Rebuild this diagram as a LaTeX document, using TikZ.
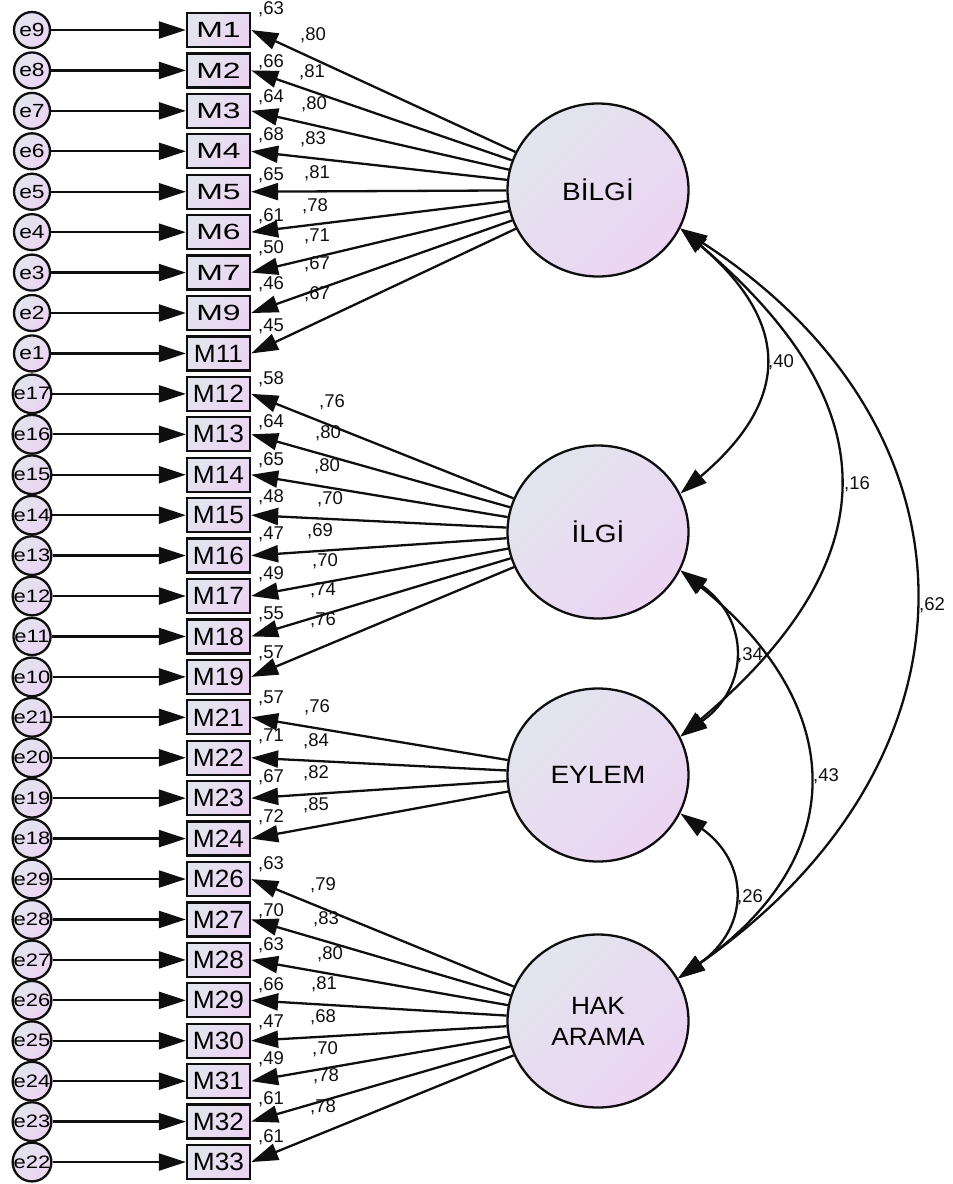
\documentclass[tikz,border=0pt]{standalone}
\usepackage{fontspec}
\setmainfont{Liberation Sans}
\usetikzlibrary{arrows.meta,shapes.geometric}
\definecolor{fillA}{RGB}{226,229,238}
\definecolor{fillB}{RGB}{236,212,243}
\definecolor{ink}{RGB}{15,15,15}
\newcommand{\mlabel}[1]{\ifnum#1<10 \scalebox{1.45}[1]{\fontsize{22}{22}\selectfont M#1}\else\scalebox{1.05}[1]{\fontsize{25}{25}\selectfont M#1}\fi}
\newcommand{\elabel}[1]{\ifnum#1<10 \scalebox{1.2}[1]{\fontsize{19}{19}\selectfont e#1}\else\scalebox{1.22}[1]{\fontsize{18}{18}\selectfont e#1}\fi}
\tikzset{
  grad/.style={left color=fillA, right color=fillB, shading angle=45},
  errc/.style={circle, draw=ink, line width=2.3pt, grad, minimum size=36pt, inner sep=0pt},
  mbox/.style={rectangle, draw=ink, line width=2.3pt, grad, minimum width=63pt, minimum height=34pt, inner sep=0pt},
  latent/.style={ellipse, draw=ink, line width=2.3pt, grad, minimum width=181pt, minimum height=173pt, inner sep=0pt, align=center, font=\fontsize{25}{31}\selectfont},
  arr/.style={line width=2.3pt, draw=ink, -{Triangle[length=27pt,width=17pt]}},
  darr/.style={line width=2.3pt, draw=ink, {Triangle[length=27pt,width=17pt]}-{Triangle[length=27pt,width=17pt]}},
  lab/.style={inner sep=0pt, font=\fontsize{18.5}{18.5}\selectfont, text=ink}
}
\begin{document}
\begin{tikzpicture}[x=1pt, y=-1pt]
\useasboundingbox (0,0) rectangle (953,1184);
% latent variables
\node[latent] (B) at (598,190) {\scalebox{1.12}[1]{BİLGİ}};
\node[latent] (I) at (598,532) {\scalebox{1.12}[1]{İLGİ}};
\node[latent] (E) at (598,775) {\scalebox{1.12}[1]{EYLEM}};
\node[latent] (H) at (598,1021) {\scalebox{1.05}[1]{HAK}\\\scalebox{1.05}[1]{ARAMA}};
% indicators
\foreach \e/\m/\lat/\ld/\lx/\ly/\r/\ry [count=\i] in {
 9/1/B/80/313/35/63/9,
 8/2/B/81/312/72/66/62,
 7/3/B/80/314/104/64/97,
 6/4/B/83/313/139/68/135,
 5/5/B/81/317/173/65/175,
 4/6/B/78/315/206/61/216,
 3/7/B/71/317/236/50/248,
 2/9/B/67/317/264/46/284,
 1/11/B/67/317/294/45/326,
 17/12/I/76/332/402/58/379,
 16/13/I/80/328/433/64/422,
 15/14/I/80/327/466/65/460,
 14/15/I/70/330/499/48/497,
 13/16/I/69/320/531/47/534,
 12/17/I/70/325/561/49/574,
 11/18/I/74/323/590/55/614,
 10/19/I/76/323/620/57/653,
 21/21/E/76/317/707/57/698,
 20/22/E/84/316/741/71/736,
 19/23/E/82/316/773/67/777,
 18/24/E/85/316/805/72/817,
 29/26/H/79/323/885/63/864,
 28/27/H/83/326/919/70/911,
 27/28/H/80/330/954/63/945,
 26/29/H/81/324/984/66/985,
 25/30/H/68/323/1017/47/1022,
 24/31/H/70/325/1049/49/1059,
 23/32/H/78/326/1076/61/1099,
 22/33/H/78/323/1107/61/1137}{
  \pgfmathsetmacro{\yy}{30+40.43*(\i-1)}
  \node[errc] (e\e) at (32,\yy) {\elabel{\e}};
  \node[mbox] (M\m) at (218.5,\yy) {\mlabel{\m}};
  \draw[arr] (e\e) -- (M\m);
  \draw[arr] (\lat) -- (M\m.east);
  \node[lab] (ld\i) at (\lx,\ly) {,\ld};
  \node[lab] (rs\i) at (271,\ry) {,\r};
}
% correlations
\draw[darr] (B.-25) .. controls (791,323) and (791,400) .. (I.25);
\draw[darr] (B.-25) .. controls (890,406) and (890,559) .. (E.25);
\draw[darr] (B.-25) .. controls (991,430) and (991,760) .. (H.28);
\draw[darr] (I.-25) .. controls (750,620) and (750,687) .. (E.25);
\draw[darr] (I.-25) .. controls (850,708) and (850,858) .. (H.28);
\draw[darr] (E.-25) .. controls (750,863) and (750,928) .. (H.28);
\node[lab] (c1) at (781,362) {,40};
\node[lab] (c2) at (857,484) {,16};
\node[lab] (c3) at (932,605) {,62};
\node[lab] (c4) at (750,655) {,34};
\node[lab] (c5) at (826,776) {,43};
\node[lab] (c6) at (750,897) {,26};
\end{tikzpicture}
\end{document}
